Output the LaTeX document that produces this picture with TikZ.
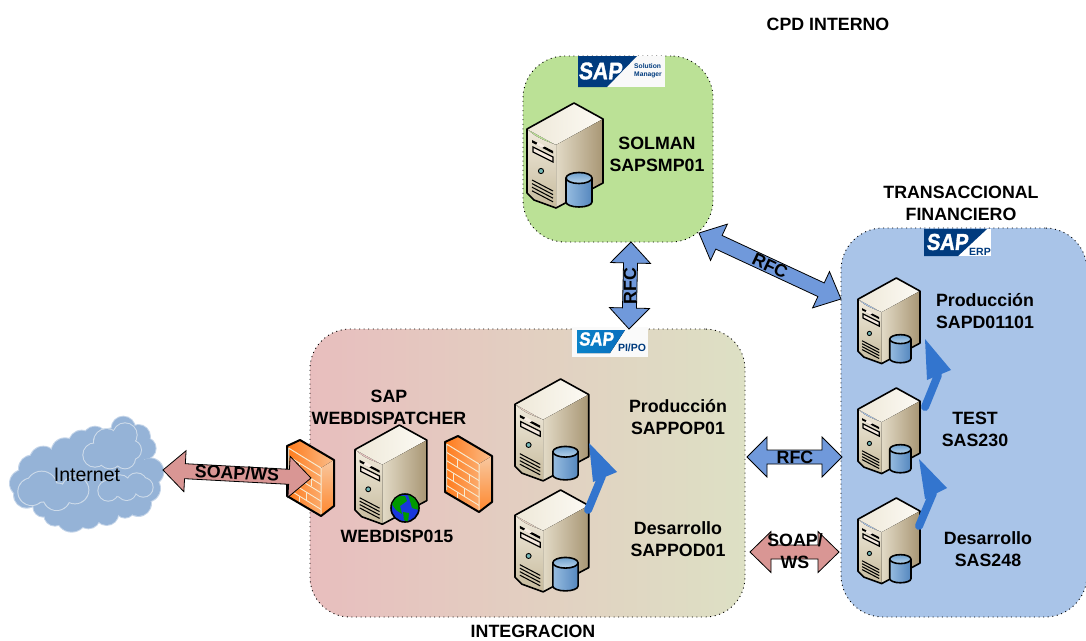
\documentclass[tikz,border=0pt]{standalone}
\usepackage{fontspec}
\setmainfont{Liberation Sans}
\newfontfamily\sapfont[FakeBold=1.6,FakeSlant=.12]{Liberation Sans Bold}
\usetikzlibrary{calc}
\definecolor{outpink}{HTML}{D99694}
\definecolor{rfcblue}{HTML}{7099DB}
\definecolor{sapnavy}{HTML}{003B7E}
\definecolor{cloudblue}{HTML}{95B3D7}
\definecolor{cloudedge}{HTML}{CFDCEA}
\definecolor{stepblue}{HTML}{3375CE}
\definecolor{brickline}{HTML}{F7EBD2}
\tikzset{
  panel/.style={draw=black,dash pattern=on 1pt off 3.6pt,line width=.9pt,inner sep=0pt,outer sep=0pt},
  lbl/.style={font=\fontsize{17.8}{22}\selectfont\bfseries,align=center,inner sep=0pt,text=black},
  fat/.style={draw=black,line width=.8pt,line join=miter},
  stepshaft/.style={draw=stepblue,line width=8pt,line cap=round},
  stephead/.style={fill=stepblue,draw=none},
  sv/.style={draw=black,line width=1.6pt,line join=round},
  thinsv/.style={draw=black,line width=.9pt},
  pics/server/.style={code={
    \fill[left color={rgb,255:red,238;green,232;blue,216},right color={rgb,255:red,252;green,250;blue,244}] (0,26) -- (47,0) -- (76,16) -- (29,42) -- cycle;
    \fill[left color={rgb,255:red,226;green,218;blue,198},middle color={rgb,255:red,224;green,214;blue,192},right color={rgb,255:red,168;green,150;blue,116}] (29,42) -- (76,16) -- (76,80) -- (29,105) -- cycle;
    \fill[top color={rgb,255:red,240;green,234;blue,220},bottom color={rgb,255:red,198;green,186;blue,156}] (0,26) .. controls (10,36) and (20,38) .. (29,42) -- (29,105) -- (7,97) -- (0,90) -- cycle;
    \draw[sv] (0,26) -- (47,0) -- (76,16) -- (76,80) -- (29,105) -- (7,97) -- (0,90) -- cycle;
    \fill[black] (5,37) -- (26,48) -- (26,50.5) -- (5,39.5) -- cycle;
    \fill[white!85!brown] (11,39) -- (18,43) -- (15,45) -- (9,42) -- cycle;
    \draw[thinsv,line width=1.2pt,fill=white!82!brown] (6,44) -- (26,54) -- (26,59) -- (6,49) -- cycle;
    \draw[thinsv,fill=teal!55!white] (14,68) circle (2.6);
    \foreach \v in {0,3.6,7.2,10.8}{\draw[thinsv,line width=1.05pt] (5,{77+\v}) -- (26,{88+\v});}
  }},
  pics/dbcyl/.style={code={
    \draw[sv,left color={rgb,255:red,150;green,188;blue,224},middle color=white,right color={rgb,255:red,85;green,135;blue,190}] (39,75) -- (39,99) arc[start angle=180,end angle=0,x radius=13,y radius=5] -- (65,75) -- cycle;
    \draw[sv,top color={rgb,255:red,110;green,160;blue,205},bottom color={rgb,255:red,185;green,212;blue,236}] (52,75) ellipse[x radius=13,y radius=5.5];
  }},
  pics/firewall/.style={code={
    \fill[left color={rgb,255:red,255;green,122;blue,26},right color={rgb,255:red,250;green,190;blue,140}] (0,6) -- (13,0) -- (47,20) -- (47,66) -- (34,76) -- (0,56) -- cycle;
    \fill[top color={rgb,255:red,248;green,200;blue,160},bottom color={rgb,255:red,255;green,135;blue,45}] (34,28) -- (47,20) -- (47,66) -- (34,76) -- cycle;
    \draw[line width=1pt,draw=brickline] (34,28) -- (34,74) (1.5,8) -- (34,28) (1.5,8) -- (1.5,54);
    \foreach \v in {.18,.36,.54,.72,.9}{\draw[line width=.9pt,draw=brickline] (1.5,{8+46*\v}) -- (34,{28+46*\v});}
    \draw[line width=.9pt,draw=brickline] (12,{14.5+8}) -- (12,{14.5+16}) (24,{22+16}) -- (24,{22+24}) (8,{12+25}) -- (8,{12+33}) (19,{19+33}) -- (19,{19+41}) (12,{14.5+41}) -- (12,{14.5+49});
    \draw[draw=black,line width=2pt,line join=round] (0,6) -- (13,0) -- (47,20) -- (47,66) -- (34,76) -- (0,56) -- cycle;
  }},
}
\newcommand{\fatarrow}[6]{%
  \draw[fat,#6] (#1)
    -- ($(#1)!#4pt!(#2)!#5pt!90:(#2)$)
    -- ($(#1)!#4pt!(#2)!#3pt!90:(#2)$)
    -- ($(#2)!#4pt!(#1)!#3pt!-90:(#1)$)
    -- ($(#2)!#4pt!(#1)!#5pt!-90:(#1)$)
    -- (#2)
    -- ($(#2)!#4pt!(#1)!#5pt!90:(#1)$)
    -- ($(#2)!#4pt!(#1)!#3pt!90:(#1)$)
    -- ($(#1)!#4pt!(#2)!#3pt!-90:(#2)$)
    -- ($(#1)!#4pt!(#2)!#5pt!-90:(#2)$)
    -- cycle;}
\newcommand{\saptext}[3]{\node[inner sep=0pt,text=white,transform shape,xscale=.88,font=\fontsize{#2}{#2}\selectfont\sapfont] at (#1) {#3};}
\newcommand{\cloudlobes}[3]{%
  \foreach \x/\y/\r in {#3} {\fill[#1] (\x,\y) circle ({\r+3});}
  \foreach \x/\y/\r in {#3} {\fill[#2] (\x,\y) circle (\r);}}
\begin{document}
\begin{tikzpicture}[x=1pt,y=-1pt]
\useasboundingbox (0,0) rectangle (1086,640);
% panels
\node[panel,fill={rgb,255:red,187;green,225;blue,150},minimum width=190pt,minimum height=186pt,rounded corners=42pt] (solmanpanel) at (618,149) {};
\node[panel,left color={rgb,255:red,232;green,190;blue,190},right color={rgb,255:red,221;green,224;blue,196},minimum width=435pt,minimum height=288pt,rounded corners=40pt] (pipanel) at (527.5,473) {};
\node[panel,fill={rgb,255:red,169;green,196;blue,232},minimum width=246pt,minimum height=389pt,rounded corners=42pt] (erppanel) at (964,422.5) {};
% cloud
\begin{scope}[shift={(0,400)},scale=1/3]
  \cloudlobes{cloudblue!55!white}{cloudblue}{370/85/35,415/110/35,435/145/32,450/215/40,440/265/40,415/310/38,375/325/28,320/340/35,265/350/35,215/350/45,165/345/32,130/320/30,80/285/38,70/250/40,95/205/38,130/180/40,195/155/40,245/130/38,285/115/35,335/115/30,230/250/110,330/220/110,160/260/75}
  \cloudlobes{cloudedge}{cloudblue}{345/145/40,285/165/35,320/125/38,375/105/35,395/150/28,375/175/30,330/170/35}
  \cloudlobes{cloudedge}{cloudblue}{125/260/45,95/275/40,170/290/40,225/270/40}
  \cloudlobes{cloudedge}{cloudblue}{325/272/30,360/258/32,410/250/30,430/262/28,380/272/28}
\end{scope}
\node[inner sep=0pt,font=\fontsize{19.5}{22}\selectfont] (internet) at (87,475) {Internet};
% servers
\pic at (527,103) {server};
\pic at (527,103) {dbcyl};
\pic[scale=.97] at (515,379) {server};
\pic[scale=.97] at (515,379) {dbcyl};
\pic[scale=.97] at (515,490) {server};
\pic[scale=.97] at (515,490) {dbcyl};
\pic[scale=.815] at (858,278) {server};
\pic[scale=.815] at (858,278) {dbcyl};
\pic[scale=.815] at (858,388) {server};
\pic[scale=.815] at (858,388) {dbcyl};
\pic[scale=.815] at (858,498) {server};
\pic[scale=.815] at (858,498) {dbcyl};
\pic[scale=.945] at (355,425) {server};
% globe
\begin{scope}
  \draw[line width=1.6pt,fill={rgb,255:red,25;green,55;blue,220}] (405,508) circle (14);
  \clip (405,508) circle (13.3);
  \fill[green!60!black] (393,496) -- (405,496) -- (407,501) -- (400,506) -- (402,514) -- (396,510) -- (391,503) -- cycle;
  \fill[green!60!black] (408,495) -- (420,500) -- (419,510) -- (412,508) -- (410,501) -- cycle;
  \fill[green!60!black] (403,512) -- (409,513) -- (408,522) -- (404,520) -- cycle;
\end{scope}
% firewalls
\pic (fwleft) at (287,440) {firewall};
\pic (fwright) at (445,436) {firewall};
% logos
\fill[white!95!gray] (578,56) rectangle (665,87);
\fill[sapnavy] (578,56) -- (637,56) -- (607,87) -- (578,87) -- cycle;
\saptext{600,71}{24}{SAP}
\node[inner sep=0pt,text=sapnavy,font=\fontsize{6.7}{7.5}\selectfont\bfseries,align=left] (solmantxt) at (648,71) {Solution\\Manager};
\fill[white] (924,229) rectangle (991,256);
\fill[sapnavy] (924,229) -- (987,229) -- (958,256) -- (924,256) -- cycle;
\saptext{947,242}{23}{SAP}
\node[inner sep=0pt,text=sapnavy,font=\fontsize{10.5}{10.5}\selectfont\bfseries] (erptxt) at (980,252) {ERP};
\fill[white!96!gray] (572,327) rectangle (648,357);
\fill[left color={rgb,255:red,10;green,130;blue,200},right color={rgb,255:red,10;green,110;blue,190}] (577,330) -- (625,330) -- (610,353) -- (577,353) -- cycle;
\saptext{596,339}{19}{SAP}
\node[inner sep=0pt,text=sapnavy,font=\fontsize{10.5}{10.5}\selectfont\bfseries] (pitxt) at (632,348) {PI/PO};
% connector ends
\coordinate (inetA) at (163,470);
\coordinate (inetB) at (311,478);
\coordinate (rfcvA) at (631,242);
\coordinate (rfcvB) at (629,329);
\coordinate (rfcdA) at (699,233);
\coordinate (rfcdB) at (841,299);
\coordinate (rfchA) at (747,457);
\coordinate (rfchB) at (842,457);
\coordinate (soapA) at (750,552);
\coordinate (soapB) at (839,552);
\fatarrow{inetA}{inetB}{7.5}{22}{20.5}{fill=outpink}
\fatarrow{rfcvA}{rfcvB}{7}{21}{20}{fill=rfcblue}
\fatarrow{rfcdA}{rfcdB}{7.5}{22}{20}{fill=rfcblue}
\fatarrow{rfchA}{rfchB}{7}{20}{20}{fill=rfcblue}
\fatarrow{soapA}{soapB}{7}{21}{20.5}{fill=outpink}
% stepped blue arrows
\coordinate (s1a) at (588,510); \coordinate (s1b) at (602,476);
\coordinate (h1a) at (589,443); \coordinate (h1b) at (617,472); \coordinate (h1c) at (593,482);
\draw[stepshaft] (s1a) -- (s1b);
\fill[stephead] (h1a) -- (h1b) -- (h1c) -- cycle;
\coordinate (s2a) at (925,407); \coordinate (s2b) at (938,375);
\coordinate (h2a) at (925,339); \coordinate (h2b) at (951,370); \coordinate (h2c) at (927,380);
\draw[stepshaft] (s2a) -- (s2b);
\fill[stephead] (h2a) -- (h2b) -- (h2c) -- cycle;
\coordinate (s3a) at (919,526); \coordinate (s3b) at (933,493);
\coordinate (h3a) at (919,459); \coordinate (h3b) at (947,488); \coordinate (h3c) at (925,499);
\draw[stepshaft] (s3a) -- (s3b);
\fill[stephead] (h3a) -- (h3b) -- (h3c) -- cycle;
% labels
\node[lbl] (cpd) at (828,24) {CPD INTERNO};
\node[lbl] (solman) at (657,154) {SOLMAN\\SAPSMP01};
\node[lbl] (trans) at (961,203) {TRANSACCIONAL\\FINANCIERO};
\node[lbl] (prod) at (985,311) {Producción\\SAPD01101};
\node[lbl] (test) at (975,429.5) {TEST\\SAS230};
\node[lbl] (des) at (988,549) {Desarrollo\\SAS248};
\node[lbl] (pop) at (678,417.5) {Producción\\SAPPOP01};
\node[lbl] (pod) at (678,539) {Desarrollo\\SAPPOD01};
\node[lbl] (webd) at (389,407) {SAP\\WEBDISPATCHER};
\node[lbl] (webn) at (397,536) {WEBDISP015};
\node[lbl] (integ) at (533,631) {INTEGRACION};
\node[lbl,rotate=-3] (soap1) at (237,473) {SOAP/WS};
\node[lbl,rotate=90] (rfc1) at (630,286) {RFC};
\node[lbl,rotate=-25] (rfc2) at (770,266) {RFC};
\node[lbl] (rfc3) at (795,457) {RFC};
\node[lbl] (soap2) at (795,551) {SOAP/\\WS};
\end{tikzpicture}
\end{document}
